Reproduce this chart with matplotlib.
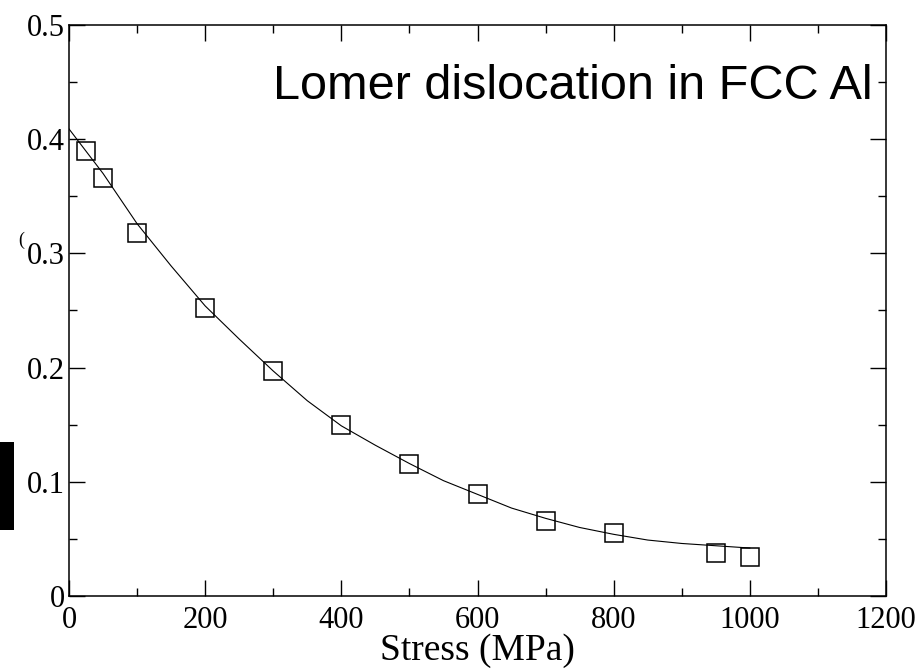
import matplotlib
matplotlib.use("Agg")
import matplotlib.pyplot as plt
from matplotlib.patches import Rectangle
from matplotlib.ticker import MultipleLocator

# measured points (open squares)
stress = [25, 50, 100, 200, 300, 400, 500, 600, 700, 800, 950, 1000]
barrier = [0.390, 0.366, 0.318, 0.252, 0.197, 0.150, 0.116, 0.089, 0.066, 0.055, 0.038, 0.034]

# fitted curve
fit_stress = [0, 50, 100, 150, 200, 250, 300, 350, 400, 450, 500,
              550, 600, 650, 700, 750, 800, 850, 900, 950, 1000]
fit_barrier = [0.409, 0.370, 0.326, 0.289, 0.254, 0.225, 0.197, 0.171, 0.149, 0.132, 0.116,
               0.101, 0.089, 0.077, 0.068, 0.060, 0.054, 0.049, 0.046, 0.044, 0.042]

x_ticks = [0, 200, 400, 600, 800, 1000, 1200]
y_ticks = [0, 0.1, 0.2, 0.3, 0.4, 0.5]
y_tick_labels = ["0", "0.1", "0.2", "0.3", "0.4", "0.5"]
title = "Lomer dislocation in FCC Al"

serif = ["Liberation Serif", "DejaVu Serif"]
sans = ["Liberation Sans", "DejaVu Sans"]

W, H = 916, 670
fig = plt.figure(figsize=(W / 100, H / 100), dpi=100)
ax = fig.add_axes([69 / W, 1 - 596 / H, (886 - 69) / W, (596 - 25) / H])

ax.plot(fit_stress, fit_barrier, color="black", lw=0.8)
ax.plot(stress, barrier, ls="none", marker="s", ms=13, mfc="none", mec="black", mew=1.1)

ax.set_xlim(0, 1200)
ax.set_ylim(0, 0.5)
ax.set_xticks(x_ticks)
ax.set_xticklabels([str(v) for v in x_ticks])
ax.set_yticks(y_ticks)
ax.set_yticklabels(y_tick_labels)
ax.xaxis.set_minor_locator(MultipleLocator(100))
ax.yaxis.set_minor_locator(MultipleLocator(0.05))

ax.tick_params(which="both", direction="in", top=True, right=True, width=1.0, color="black")
ax.tick_params(which="major", length=11.5)
ax.tick_params(which="minor", length=5.8)
ax.tick_params(axis="x", which="major", pad=7)
ax.tick_params(axis="y", which="major", pad=3)
for lab in ax.get_xticklabels() + ax.get_yticklabels():
    lab.set_family(serif)
    lab.set_fontsize(22)
for sp in ax.spines.values():
    sp.set_linewidth(1.1)

ax.set_xlabel("Stress (MPa)", family=serif, fontsize=27, labelpad=-1)

ax.text((873 - 69) / 817, (596 - 99) / 571, title, transform=ax.transAxes,
        ha="right", va="baseline", family=sans, fontsize=35)

# bits cut off at the left edge of the original
fig.patches.append(Rectangle((0, 1 - 530 / H), 14 / W, 88 / H, transform=fig.transFigure,
                             facecolor="black", edgecolor="none"))
fig.text(18 / W, 1 - 240 / H, "(", family=serif, fontsize=13, ha="left", va="center")

fig.savefig("out.png", dpi=100)
